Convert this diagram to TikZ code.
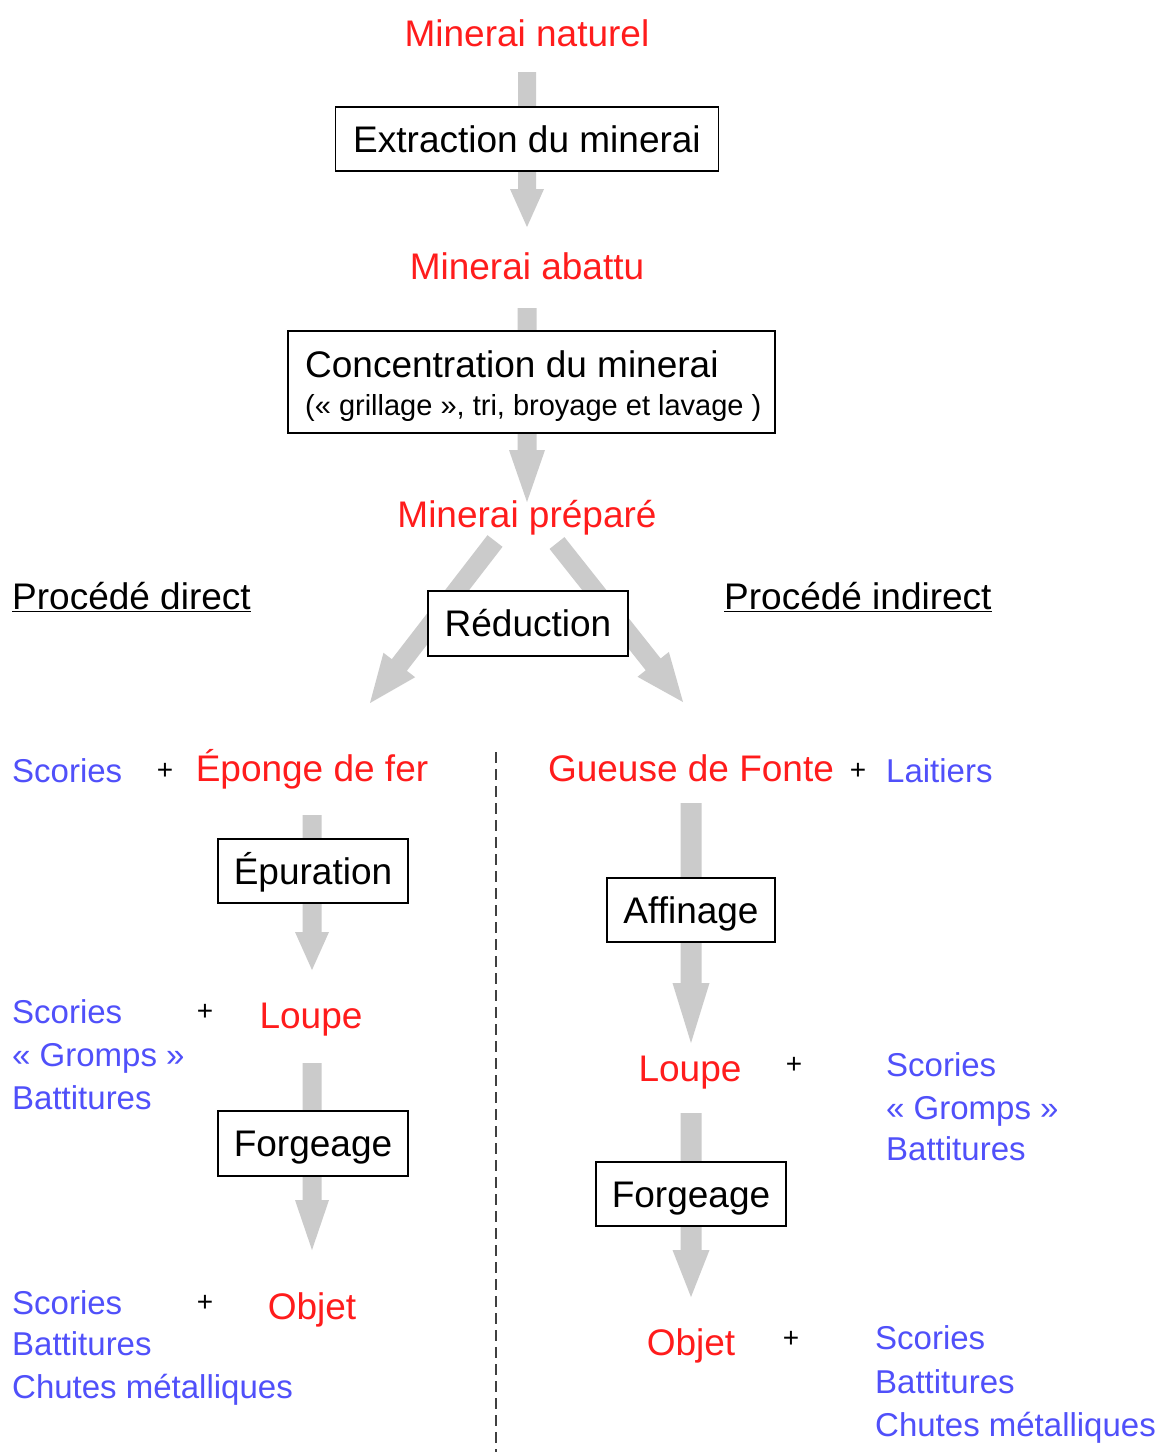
\documentclass[tikz,border=0pt]{standalone}
\usepackage{fontspec}
\setmainfont{Liberation Sans}
\usetikzlibrary{calc}
\definecolor{redt}{RGB}{255,28,28}
\definecolor{bluet}{RGB}{80,80,250}
\definecolor{arrowgray}{RGB}{203,203,203}
% fat block arrow: #1 start, #2 end, #3 half shaft width, #4 half head width, #5 head length
\newcommand\fatarr[5]{%
  \coordinate (fa-s) at #1;
  \coordinate (fa-e) at #2;
  \coordinate (fa-h) at ($(fa-e)!#5!(fa-s)$);
  \fill[arrowgray] ($(fa-s)!#3!90:(fa-e)$) -- ($(fa-h)!#3!90:(fa-e)$) -- ($(fa-h)!#4!90:(fa-e)$) -- (fa-e)
    -- ($(fa-h)!#4!-90:(fa-e)$) -- ($(fa-h)!#3!-90:(fa-e)$) -- ($(fa-s)!#3!-90:(fa-e)$) -- cycle;}
\begin{document}
\begin{tikzpicture}[x=1pt,y=-1pt,
  redtxt/.style={inner sep=0pt, text height=26.6pt, text depth=0pt, text=redt, font=\fontsize{37}{44}\selectfont},
  blacktxt/.style={inner sep=0pt, text height=26.6pt, text depth=0pt, text=black, font=\fontsize{37}{44}\selectfont},
  smalltxt/.style={inner sep=0pt, text height=20.8pt, text depth=0pt, text=black, font=\fontsize{29}{34}\selectfont},
  bluetxt/.style={inner sep=0pt, text height=23.7pt, text depth=0pt, text=bluet, font=\fontsize{33}{40}\selectfont, anchor=west},
  plustxt/.style={inner sep=0pt, text height=19pt, text depth=0pt, text=black, font=\fontsize{28}{34}\selectfont},
  procbox/.style={draw=black, line width=1.8pt, fill=white, inner sep=0pt, text height=26.6pt, text depth=0pt, font=\fontsize{37}{44}\selectfont},
  dashline/.style={draw=black!75, line width=1.6pt, dash pattern=on 11pt off 6pt}
]
\useasboundingbox (0,0) rectangle (1159,1452);
\fill[white] (0,0) rectangle (1159,1452);

% text nodes
\node[redtxt] (mn) at (527,33) {Minerai naturel};
\node[redtxt] (ma) at (527,266) {Minerai abattu};
\node[redtxt] (mp) at (527,514) {Minerai préparé};
\node[blacktxt, anchor=west] (pd) at (12,596) {\underline{Procédé direct}};
\node[blacktxt, anchor=west] (pi) at (724,596) {\underline{Procédé indirect}};

\node[bluetxt] (sc1) at (12,771) {Scories};
\node[plustxt] (p1) at (165,770) {+};
\node[redtxt] (epf) at (312,768) {Éponge de fer};
\node[redtxt] (guf) at (691,768) {Gueuse de Fonte};
\node[plustxt] (p2) at (858,770) {+};
\node[bluetxt] (lai) at (886,771) {Laitiers};

\node[bluetxt] (sc2) at (12,1012) {Scories};
\node[bluetxt] (gr2) at (12,1055) {« Gromps »};
\node[bluetxt] (ba2) at (12,1098) {Battitures};
\node[plustxt] (p3) at (205,1011) {+};
\node[redtxt] (loL) at (311,1015) {Loupe};

\node[bluetxt] (sc3) at (12,1303) {Scories};
\node[bluetxt] (ba3) at (12,1344) {Battitures};
\node[bluetxt] (ch3) at (12,1387) {Chutes métalliques};
\node[plustxt] (p4) at (205,1302) {+};
\node[redtxt] (obL) at (312,1306) {Objet};

\node[redtxt] (loR) at (690,1068) {Loupe};
\node[plustxt] (p5) at (794,1064) {+};
\node[bluetxt] (sc4) at (886,1065) {Scories};
\node[bluetxt] (gr4) at (886,1108) {« Gromps »};
\node[bluetxt] (ba4) at (886,1149) {Battitures};

\node[redtxt] (obR) at (691,1342) {Objet};
\node[plustxt] (p6) at (791,1338) {+};
\node[bluetxt] (sc5) at (875,1338) {Scories};
\node[bluetxt] (ba5) at (875,1382) {Battitures};
\node[bluetxt] (ch5) at (875,1425) {Chutes métalliques};

% fat arrows (drawn before boxes so they pass behind)
\fatarr{($(mn.south)+(0,25.5)$)}{($(ma.north)+(0,-25.5)$)}{9pt}{17pt}{38pt}
\fatarr{($(ma.south)+(0,28.5)$)}{($(mp.north)+(0,1.5)$)}{9.5pt}{18pt}{52pt}
\fatarr{($(mp.south)+(-32,13.5)$)}{($(epf.north)+(58,-51.5)$)}{9.5pt}{20pt}{48pt}
\fatarr{($(mp.south)+(30,15.5)$)}{($(guf.north)+(-8,-52.5)$)}{9.5pt}{20pt}{48pt}
\fatarr{($(epf.south)+(0,33.5)$)}{($(loL.north)+(1,-31.5)$)}{9.5pt}{17pt}{38pt}
\fatarr{($(loL.south)+(1,34.5)$)}{($(obL.north)+(0,-42.5)$)}{9.5pt}{17pt}{50pt}
\fatarr{($(guf.south)+(0,21.5)$)}{($(loR.north)+(1,-11.5)$)}{10.5pt}{18.5pt}{60pt}
\fatarr{($(loR.south)+(1,31.5)$)}{($(obR.north)+(0,-31.5)$)}{10.5pt}{18.5pt}{47pt}

% boxes
\node[procbox, minimum width=383pt, minimum height=64pt] (ext) at (527,139) {Extraction du minerai};
\node[draw=black, line width=1.8pt, fill=white, inner sep=0pt, minimum width=487pt, minimum height=102pt] (conc) at (531.5,382) {};
\node[blacktxt, anchor=west] (conc1) at (305,364) {Concentration du minerai};
\node[smalltxt, anchor=west] (conc2) at (305,405) {(« grillage », tri, broyage et lavage )};
\node[procbox, minimum width=200pt, minimum height=65pt] (red) at (528,623.5) {Réduction};
\node[procbox, minimum width=190pt, minimum height=64pt] (epu) at (313,871) {Épuration};
\node[procbox, minimum width=190pt, minimum height=65pt] (forL) at (313,1143.5) {Forgeage};
\node[procbox, minimum width=168pt, minimum height=64pt] (aff) at (691,910) {Affinage};
\node[procbox, minimum width=190pt, minimum height=64pt] (forR) at (691,1194) {Forgeage};

% dashed separator
\coordinate (dtop) at (496,752);
\coordinate (dbot) at (496,1452);
\draw[dashline] (dtop) -- (dbot);
\end{tikzpicture}
\end{document}
